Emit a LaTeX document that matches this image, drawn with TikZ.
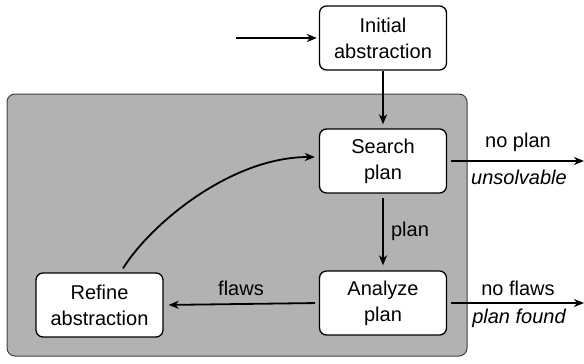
\documentclass[tikz,border=0pt]{standalone}
\usepackage{fontspec}
\setmainfont{Liberation Sans}
\usetikzlibrary{arrows.meta}
\begin{document}
\begin{tikzpicture}[x=1pt,y=-1pt,
  font=\fontsize{20}{26}\selectfont,
  box/.style={draw, fill=white, rounded corners=7pt, line width=1.3pt,
    minimum width=127pt, minimum height=64pt, inner sep=0pt, align=center},
  arr/.style={line width=1.8pt, -{Stealth[length=10pt,width=8pt,inset=3pt]}},
  lbl/.style={inner sep=0pt}]
\useasboundingbox (0,0) rectangle (584,364);
\node[draw=black!75, fill=black!30, line width=1pt, rounded corners=8pt,
  minimum width=460pt, minimum height=262pt, inner sep=0pt] (loop) at (237,225) {};
\node[box] (init) at (383,38) {Initial\\abstraction};
\node[box] (search) at (383,161) {Search\\plan};
\node[box] (analyze) at (383,303) {Analyze\\plan};
\node[box] (refine) at (99.5,305) {Refine\\abstraction};
\coordinate (start) at (236,38);
\coordinate (np) at (584,161);
\coordinate (nf) at (584,303);
\draw[arr, shorten >=2pt] (start) -- (init.west);
\draw[arr, shorten >=4pt] (init.south) -- (search.north);
\draw[arr, shorten <=4pt, shorten >=5pt] (search.south) -- (analyze.north);
\draw[arr, shorten <=4pt, shorten >=5pt] (analyze.west) -- (refine.east);
\draw[arr, shorten <=4pt] (search.east) -- (np);
\draw[arr, shorten <=4pt] (analyze.east) -- (nf);
\draw[arr] ([xshift=23.5pt,yshift=4pt]refine.north) .. controls (150,225) and (230,157) .. ([xshift=-4pt,yshift=4pt]search.west);
\node[lbl] (lplan) at (410,231) {plan};
\node[lbl] (lflaws) at (241,288) {flaws};
\node[lbl] (lnoplan) at (518,142) {no plan};
\node[lbl] (lunsolv) at (519,177) {\itshape unsolvable};
\node[lbl] (lnoflaws) at (518,288) {no flaws};
\node[lbl] (lfound) at (519,318) {\itshape plan found};
\end{tikzpicture}
\end{document}
